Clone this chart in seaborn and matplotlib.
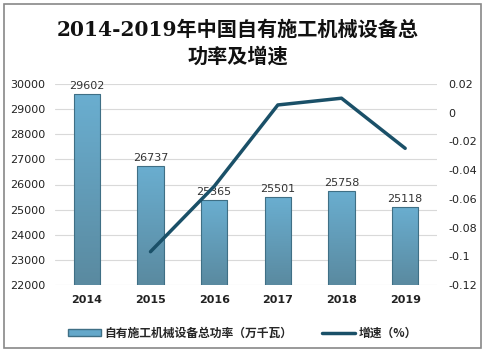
import matplotlib
matplotlib.use("Agg")
import matplotlib.pyplot as plt
import seaborn as sns
import numpy as np
import pandas as pd
from matplotlib.patches import Rectangle
from matplotlib.lines import Line2D
from matplotlib.colors import LinearSegmentedColormap

years = ["2014", "2015", "2016", "2017", "2018", "2019"]
power = [29602, 26737, 25365, 25501, 25758, 25118]
growth_years = ["2015", "2016", "2017", "2018", "2019"]
growth = [-0.0968, -0.0513, 0.0054, 0.0101, -0.0248]
left_ticks = [22000, 23000, 24000, 25000, 26000, 27000, 28000, 29000, 30000]
right_ticks = [-0.12, -0.1, -0.08, -0.06, -0.04, -0.02, 0, 0.02]
right_labels = ["-0.12", "-0.1", "-0.08", "-0.06", "-0.04", "-0.02", "0", "0.02"]
title = "2014-2019年中国自有施工机械设备总\n功率及增速"
bar_label = "自有施工机械设备总功率（万千瓦）"
line_label = "增速（%）"

sns.set_theme(style="white")
plt.rcParams['font.family'] = ['DejaVu Sans', 'Noto Sans CJK SC']

fig = plt.figure(figsize=(4.85, 3.52), dpi=100)
ax = fig.add_axes([55/485, (352-285)/352, 382/485, (285-84)/352])

df = pd.DataFrame({"year": years, "power": power})
sns.barplot(data=df, x="year", y="power", ax=ax, width=0.41, color="#64a8ca",
            edgecolor="#3f6f85", linewidth=0.8, zorder=2)
ax.set_ylim(22000, 30000)
ax.set_xlim(-0.5, 5.5)

cmap = LinearSegmentedColormap.from_list("g", ["#5a8aa0", "#6aaed0"])
for p in ax.patches:
    x0, y0 = p.get_x(), p.get_y()
    w, h = p.get_width(), p.get_height()
    im = ax.imshow(np.linspace(0, 1, 100).reshape(-1, 1), cmap=cmap, origin="lower",
                   extent=[x0, x0 + w, 22000, y0 + h], aspect="auto", zorder=2.5)
    im.set_clip_path(p)
    p.set_facecolor("none")
    p.set_zorder(3)
ax.set_xlim(-0.5, 5.5)
ax.set_ylim(22000, 30000)

for i, v in enumerate(power):
    ax.text(i, v + 120, str(v), ha="center", va="bottom", fontsize=8, color="#333333", zorder=5)

ax.set_yticks(left_ticks)
ax.set_yticklabels([str(t) for t in left_ticks], fontsize=8, color="#222222")
ax.set_xticks(range(len(years)))
ax.set_xticklabels(years, fontsize=8, fontweight="bold", color="#222222")
ax.set_xlabel("")
ax.set_ylabel("")
ax.yaxis.grid(True, color="#d9d9d9", linewidth=0.8, zorder=0)
ax.set_axisbelow(True)
for s in ax.spines.values():
    s.set_visible(False)
ax.tick_params(axis="both", length=0, pad=7)

ax2 = ax.twinx()
gx = [years.index(y) for y in growth_years]
sns.lineplot(x=gx, y=growth, ax=ax2, color="#1a5068", linewidth=2.5, zorder=6)
ax2.set_ylim(-0.12, 0.02)
ax2.set_yticks(right_ticks)
ax2.set_yticklabels(right_labels, fontsize=8, color="#222222")
ax2.tick_params(axis="y", length=0, pad=8)
for s in ax2.spines.values():
    s.set_visible(False)
ax2.set_xlim(-0.5, 5.5)

fig.text(0.49, 0.877, title, ha="center", va="center", fontsize=14.5, fontweight="bold",
         family=["DejaVu Serif", "Noto Sans CJK SC"], linespacing=1.4, color="#111111")

handles = [Rectangle((0, 0), 1, 1, facecolor="#64a8ca", edgecolor="#3f6f85"),
           Line2D([0], [0], color="#1a5068", linewidth=2.5)]
leg = fig.legend(handles, [bar_label, line_label], loc="center", bbox_to_anchor=(0.5, 0.053),
                 ncol=2, frameon=False, handlelength=2.8, handleheight=0.5,
                 columnspacing=2.5, handletextpad=0.3,
                 prop={"family": ["Noto Sans CJK SC", "DejaVu Sans"], "size": 8.5, "weight": "bold"})

fig.patches.append(Rectangle((4/485, 4/352), 477/485, 344/352, transform=fig.transFigure,
                             fill=False, edgecolor="#888888", linewidth=1.2))

fig.savefig("out.png", dpi=100)
